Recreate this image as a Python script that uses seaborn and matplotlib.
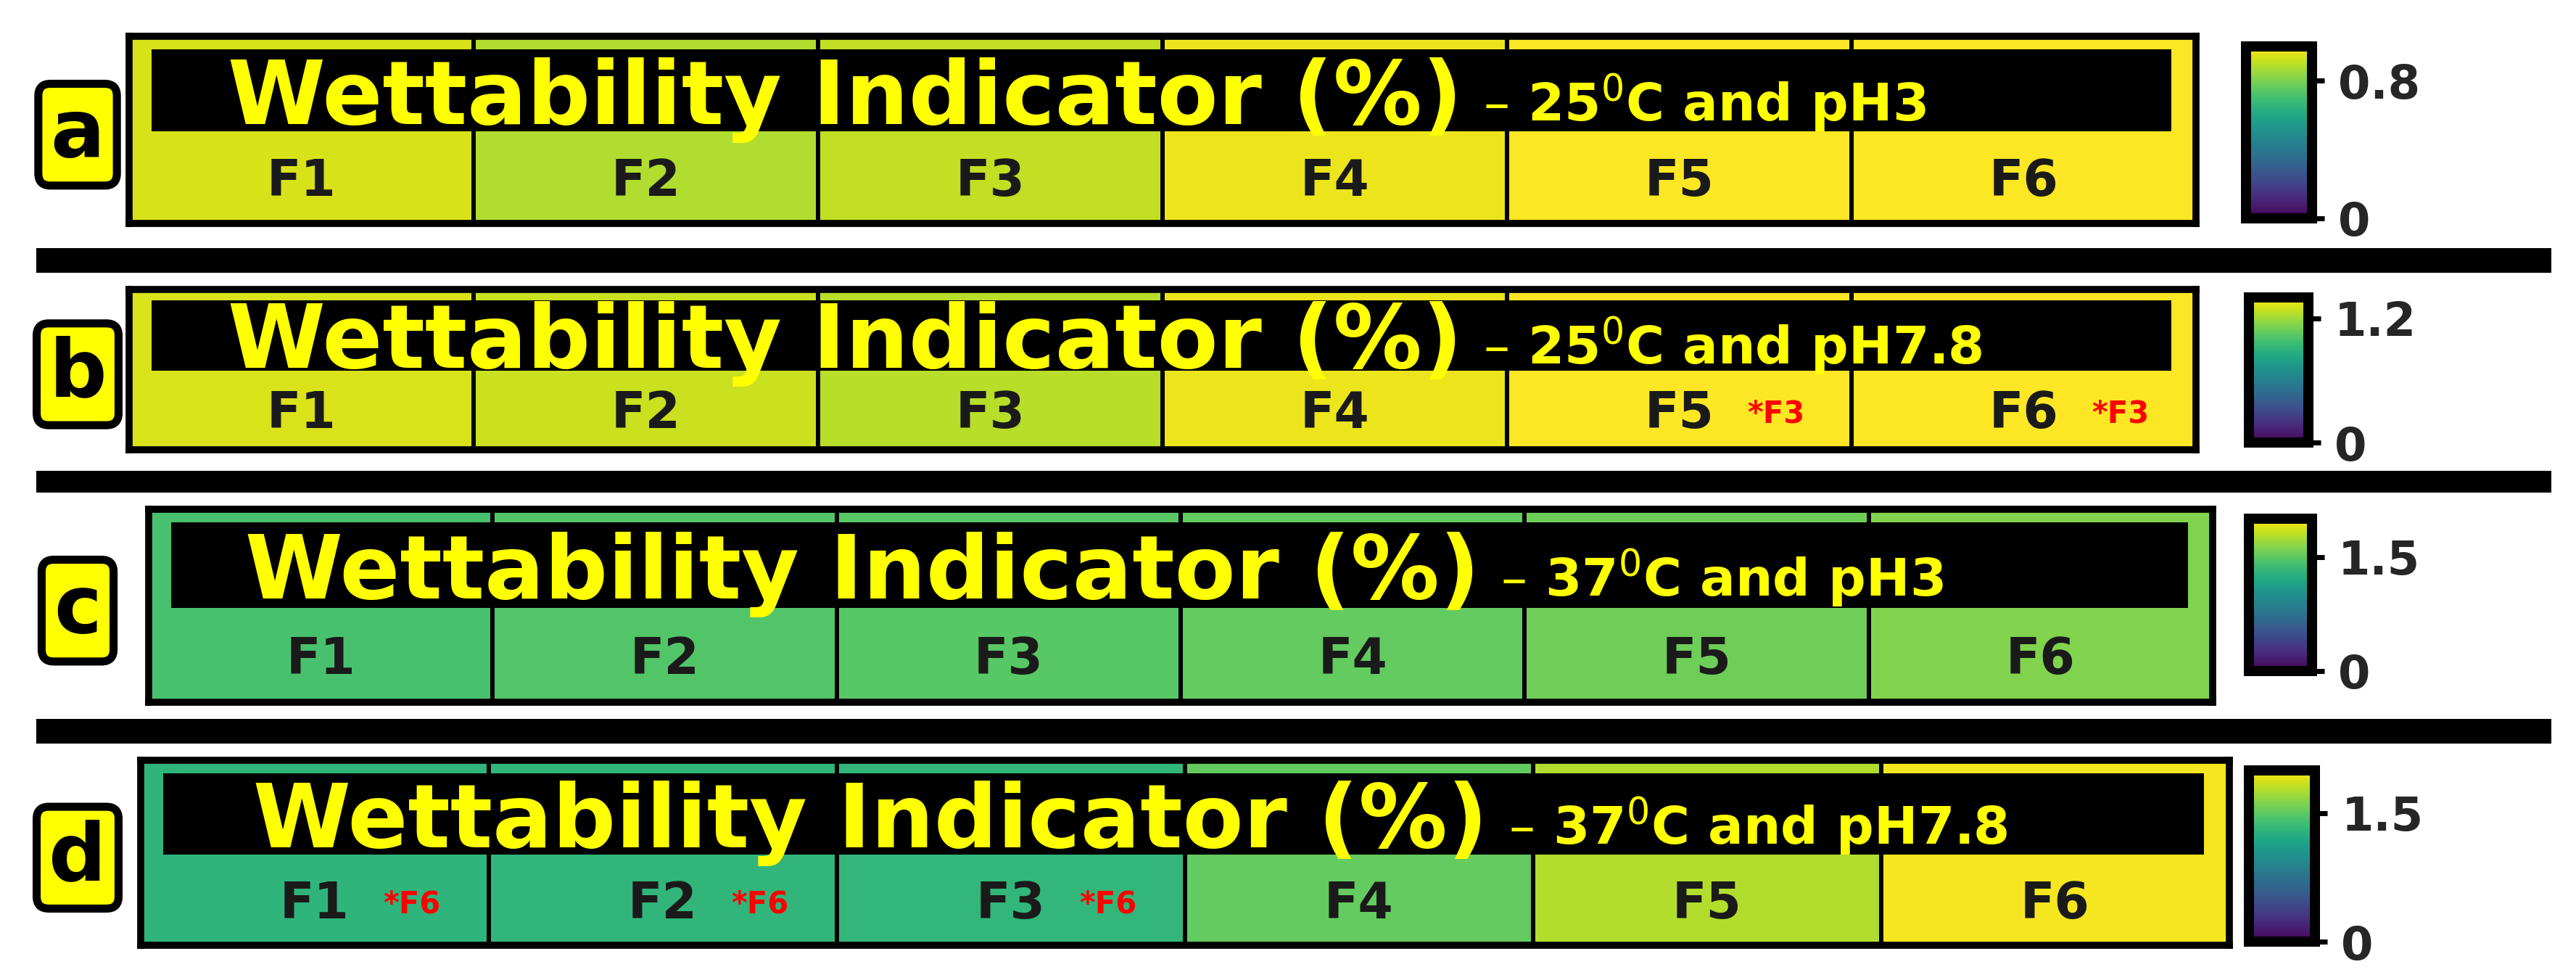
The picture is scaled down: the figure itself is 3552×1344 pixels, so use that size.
import matplotlib
matplotlib.use("Agg")
import matplotlib.pyplot as plt
import seaborn as sns
import numpy as np
from matplotlib.patches import Rectangle

sns.set_theme(style="white")
plt.rcParams['font.family'] = ['DejaVu Sans']

formulations = ["F1", "F2", "F3", "F4", "F5", "F6"]
panel_letters = ["a", "b", "c", "d"]
conditions = ["– 25$^{0}$C and pH3", "– 25$^{0}$C and pH7.8",
              "– 37$^{0}$C and pH3", "– 37$^{0}$C and pH7.8"]
vals_a = [0.94, 0.88, 0.91, 0.97, 0.995, 0.995]
vals_b = [1.32, 1.29, 1.25, 1.36, 1.395, 1.395]
vals_c = [1.42, 1.46, 1.48, 1.52, 1.56, 1.62]
vals_d = [1.30, 1.31, 1.32, 1.52, 1.77, 1.97]
vmaxes = [1.0, 1.4, 2.0, 2.0]
cbar_ticks = [[0, 0.8], [0, 1.2], [0, 1.5], [0, 1.5]]
cbar_labels = [["0", "0.8"], ["0", "1.2"], ["0", "1.5"], ["0", "1.5"]]
sig_marks = [{}, {4: "*F3", 5: "*F3"}, {}, {0: "*F6", 1: "*F6", 2: "*F6"}]
all_vals = [vals_a, vals_b, vals_c, vals_d]

W, H = 1560, 590
def frac(x0, y0, x1, y1):
    return [x0 / W, 1 - y1 / H, (x1 - x0) / W, (y1 - y0) / H]

ax_boxes = [(78, 22, 1330, 135), (78, 175, 1330, 272), (90, 308, 1340, 425), (85, 460, 1350, 572)]
cb_boxes = [(1360, 28, 1400, 132), (1362, 180, 1398, 268), (1362, 314, 1400, 406), (1362, 466, 1402, 570)]
sep_y = [(150, 165), (285, 298), (435, 450)]

fig = plt.figure(figsize=(35.52, 13.44), dpi=100)
fig.patch.set_facecolor("white")

for i in range(4):
    ax = fig.add_axes(frac(*ax_boxes[i]))
    cax = fig.add_axes(frac(*cb_boxes[i]))
    data = np.array([all_vals[i]])
    sns.heatmap(data, ax=ax, cmap="viridis", vmin=0, vmax=vmaxes[i], cbar_ax=cax,
                linewidths=3, linecolor="black", xticklabels=False, yticklabels=False)
    for s in ax.spines.values():
        s.set_visible(True); s.set_linewidth(7); s.set_color("black")
    ax.add_patch(Rectangle((0.011, 0.49), 0.977, 0.44, transform=ax.transAxes,
                           facecolor="black", edgecolor="none", zorder=5))
    ax.text(0.645, 0.66, "Wettability Indicator (%)", transform=ax.transAxes, ha="right",
            va="center", fontsize=88, fontweight="bold", color="#ffff00", zorder=6)
    ax.text(0.655, 0.64, conditions[i], transform=ax.transAxes, ha="left",
            va="center", fontsize=52, fontweight="bold", color="#ffff00", zorder=6)
    for j, f in enumerate(formulations):
        ax.text((j + 0.5) / 6, 0.22, f, transform=ax.transAxes, ha="center", va="center",
                fontsize=50, fontweight="bold", color="#1a1a1a", zorder=6)
        if j in sig_marks[i]:
            ax.text((j + 0.78) / 6, 0.22, sig_marks[i][j], transform=ax.transAxes,
                    ha="center", va="center", fontsize=30, fontweight="bold", color="red", zorder=6)
    cax.set_yticks(cbar_ticks[i])
    cax.set_yticklabels(cbar_labels[i], fontsize=46, fontweight="bold")
    cax.tick_params(length=12, width=5, color="black", pad=14)
    for s in cax.spines.values():
        s.set_visible(True); s.set_linewidth(10); s.set_color("black")
    x0, y0, x1, y1 = ax_boxes[i]
    fig.text(47 / W, 1 - ((y0 + y1) / 2 + 3) / H, panel_letters[i], ha="center", va="center",
             fontsize=80, fontweight="bold", color="black",
             bbox=dict(boxstyle="round,pad=0.15", facecolor="#ffff00", edgecolor="black", linewidth=8))

for (a, b) in sep_y:
    fig.patches.append(Rectangle((22 / W, 1 - b / H), (1545 - 22) / W, (b - a) / H,
                                 transform=fig.transFigure, facecolor="black", edgecolor="none"))

fig.savefig("out.png", dpi=100)
